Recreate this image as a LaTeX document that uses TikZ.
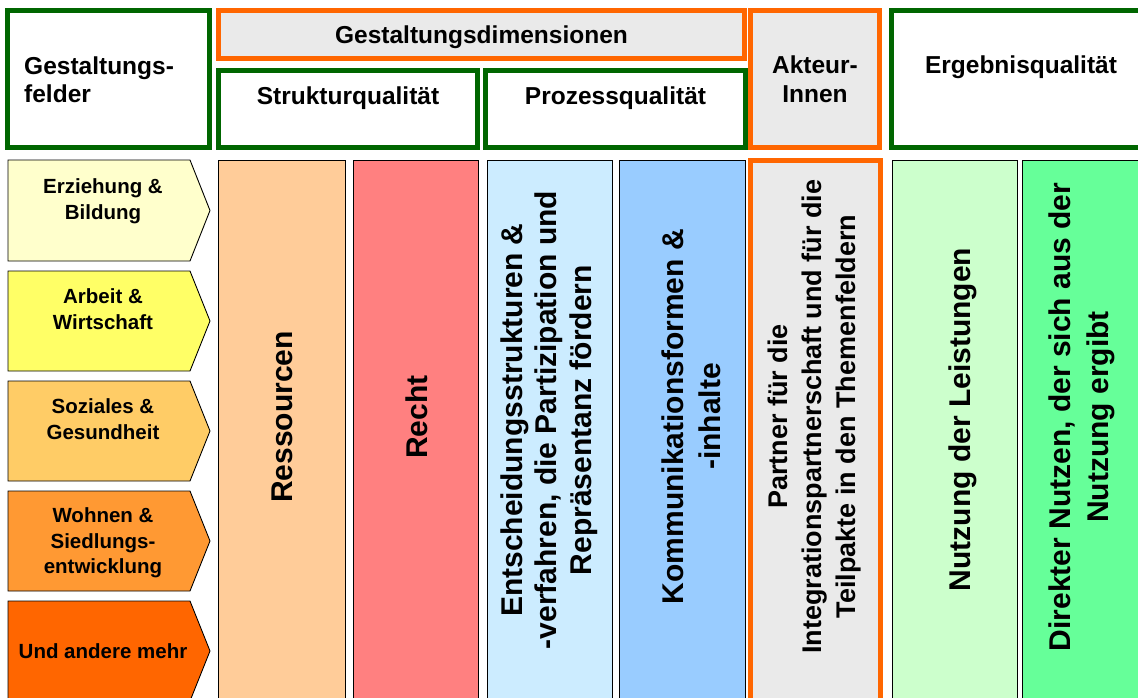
\documentclass[tikz,border=0pt]{standalone}
\usepackage{fontspec}
\setmainfont{Liberation Sans}
\definecolor{dkgreen}{HTML}{006600}
\definecolor{orng}{HTML}{FF6600}
\definecolor{boxgray}{HTML}{EAEAEA}
\definecolor{fldA}{HTML}{FFFFCC}
\definecolor{fldB}{HTML}{FFFF66}
\definecolor{fldC}{HTML}{FFCC66}
\definecolor{fldD}{HTML}{FF9933}
\definecolor{fldE}{HTML}{FF6600}
\definecolor{colRes}{HTML}{FFCC99}
\definecolor{colRecht}{HTML}{FF8080}
\definecolor{colEnt}{HTML}{CCECFF}
\definecolor{colKom}{HTML}{99CCFF}
\definecolor{colNutz}{HTML}{CCFFCC}
\definecolor{colDir}{HTML}{66FF99}
\begin{document}
\begin{tikzpicture}[x=1pt,y=-1pt,
  hdrfont/.style={font=\bfseries\fontsize{24.5}{28.5}\selectfont},
  hdr/.style={hdrfont, inner sep=0pt, anchor=base},
  grnbox/.style={draw=dkgreen, line width=5pt, fill=white},
  orgbox/.style={draw=orng, line width=5pt, fill=boxgray},
  colbox/.style={draw=black, line width=0.9pt},
  coltxt/.style={rotate=90, anchor=base, align=center, inner sep=0pt,
    font=\bfseries\fontsize{30}{36}\selectfont},
  fieldbox/.style={draw=black, line width=0.9pt},
  fieldtxt/.style={anchor=base, align=center, inner sep=0pt,
    font=\bfseries\fontsize{20.5}{26}\selectfont}]

\clip (0,0) rectangle (1138,697);
\fill[white] (0,0) rectangle (1138,697);

% ---- header row (multi-line nodes are placed by their last baseline) ----
\draw[grnbox] (7.5,10.5) rectangle (209.5,147.5);
\node[hdr, anchor=base west, align=left] (felder) at (24,102.5) {Gestaltungs-\\felder};

\draw[orgbox] (218.5,10.5) rectangle (744.5,58.5);
\node[hdr] (dim) at (481.5,43) {Gestaltungsdimensionen};

\draw[grnbox] (218.5,70.5) rectangle (477.5,147.5);
\node[hdr] (struktur) at (348,104) {Strukturqualität};

\draw[grnbox] (485.5,70.5) rectangle (745.5,147.5);
\node[hdr] (prozess) at (615.5,104) {Prozessqualität};

\draw[orgbox] (750.5,10.5) rectangle (879.5,147.5);
\node[hdr, align=center] (akteur) at (815,102) {Akteur-\\Innen};

\draw[grnbox] (891.5,10.5) rectangle (1160,147.5);
\node[hdr] (ergebnis) at (1021,73) {Ergebnisqualität};

% ---- fields of action (arrow shapes) ----
\draw[fieldbox, fill=fldA] (8,160) -- (190,160) -- (210,210.5) -- (190,261) -- (8,261) -- cycle;
\node[fieldtxt] (f1) at (103,219) {Erziehung \&\\Bildung};

\draw[fieldbox, fill=fldB] (8,271) -- (190,271) -- (210,321) -- (190,371) -- (8,371) -- cycle;
\node[fieldtxt] (f2) at (103,329.5) {Arbeit \&\\Wirtschaft};

\draw[fieldbox, fill=fldC] (8,381) -- (190,381) -- (210,431) -- (190,481) -- (8,481) -- cycle;
\node[fieldtxt] (f3) at (103,439) {Soziales \&\\Gesundheit};

\draw[fieldbox, fill=fldD] (8,491) -- (190,491) -- (210,541) -- (190,591) -- (8,591) -- cycle;
\node[fieldtxt, font=\bfseries\fontsize{20.5}{25.5}\selectfont] (f4) at (103,573.5) {Wohnen \&\\Siedlungs-\\entwicklung};

\draw[fieldbox, fill=fldE] (8,601) -- (190,601) -- (210,651) -- (190,701) -- (8,701) -- cycle;
\node[fieldtxt] (f5) at (103,658) {Und andere mehr};

% ---- dimension columns ----
\draw[colbox, fill=colRes] (218,160) rectangle (345,720);
\node[coltxt] (res) at (292,417) {Ressourcen};

\draw[colbox, fill=colRecht] (353,160) rectangle (478,720);
\node[coltxt] (recht) at (427,417) {Recht};

\draw[colbox, fill=colEnt] (487,160) rectangle (612,720);
\node[coltxt, font=\bfseries\fontsize{30}{34.5}\selectfont] (ent) at (591,420)
  {Entscheidungsstrukturen \&\\-verfahren, die Partizipation und\\Repräsentanz fördern};

\draw[colbox, fill=colKom] (619,160) rectangle (745,720);
\node[coltxt, font=\bfseries\fontsize{30}{37}\selectfont] (kom) at (720,416.5)
  {Kommunikationsformen \&\\-inhalte};

\draw[orgbox] (750.5,160.5) rectangle (880.5,720);
\node[coltxt, font=\bfseries\fontsize{27}{34}\selectfont] (partner) at (855,416.5)
  {Partner für die\\Integrationspartnerschaft und für die\\Teilpakte in den Themenfeldern};

\draw[colbox, fill=colNutz] (892,160) rectangle (1017,720);
\node[coltxt] (nutz) at (970,419.5) {Nutzung der Leistungen};

\draw[colbox, fill=colDir] (1022,160) rectangle (1150,720);
\node[coltxt, font=\bfseries\fontsize{30}{38}\selectfont] (dir) at (1108,417)
  {Direkter Nutzen, der sich aus der\\Nutzung ergibt};
\end{tikzpicture}
\end{document}
